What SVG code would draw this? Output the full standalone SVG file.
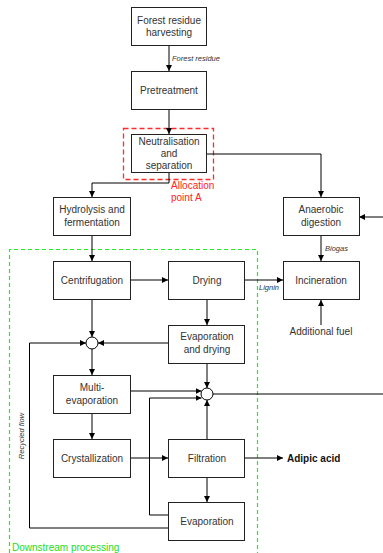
<svg xmlns="http://www.w3.org/2000/svg" width="383" height="553" viewBox="0 0 383 553">
<defs>
<marker id="ah" viewBox="0 0 10 10" refX="10" refY="5" markerWidth="6" markerHeight="6" markerUnits="userSpaceOnUse" orient="auto">
<path d="M0,0 L10,5 L0,10 z" fill="#000"/>
</marker>
<style>
.box{fill:#fff;stroke:#222;stroke-width:1}
.t{font-family:"Liberation Sans",Arial,sans-serif;font-size:10px;fill:#333;text-anchor:middle}
.lbl{font-family:"Liberation Sans",Arial,sans-serif;font-size:7.5px;font-style:italic;fill:#333}
.c{fill:none;stroke:#000;stroke-width:1}
.ca{fill:none;stroke:#000;stroke-width:1;marker-end:url(#ah)}
.jn{fill:#fff;stroke:#000;stroke-width:1}
</style>
</defs>
<rect width="383" height="553" fill="#fff"/>

<!-- region frames -->
<g id="allocation">
<rect x="123.5" y="128.5" width="90" height="51" fill="none" stroke="#ff2a2a" stroke-width="1.3" stroke-dasharray="5,3"/>
<text x="171" y="189" font-family="Liberation Sans,Arial,sans-serif" font-size="10" fill="#ff2222">Allocation</text>
<text x="171" y="201" font-family="Liberation Sans,Arial,sans-serif" font-size="10" fill="#ff2222">point A</text>
</g>
<g id="downstream">
<path d="M9.5,560 L9.5,249.5 L257.5,249.5 L257.5,560" fill="none" stroke="#22ee22" stroke-width="1.2" stroke-dasharray="4,3"/>
<text x="12" y="551" font-family="Liberation Sans,Arial,sans-serif" font-size="10" fill="#22dd22">Downstream processing</text>
</g>

<g id="connectors">
<path class="ca" d="M169,45 V71"/>
<path class="ca" d="M169,109 V134"/>
<path class="ca" d="M207,154 H321 V197"/>
<path class="ca" d="M169,172 V183 H92 V197"/>
<path class="ca" d="M92,236 V261"/>
<path class="ca" d="M130,280 H168"/>
<path class="ca" d="M245,280 H283"/>
<path class="ca" d="M321,236 V261"/>
<path class="ca" d="M383,217 H359"/>
<path class="ca" d="M321,325 V300"/>
<path class="ca" d="M92,299 V337"/>
<path class="ca" d="M207,299 V325"/>
<path class="ca" d="M168,343 H98"/>
<path class="ca" d="M92,349 V375"/>
<path class="ca" d="M207,363 V388"/>
<path class="ca" d="M130,391 H201.5"/>
<path class="ca" d="M168,515 H149.5 V398 H201.5"/>
<path class="ca" d="M168,528 H29.5 V343 H86"/>
<path class="ca" d="M92,413 V439"/>
<path class="ca" d="M130,458 H168"/>
<path class="ca" d="M207,439 V400"/>
<path class="ca" d="M207,477 V502"/>
<path class="ca" d="M245,458 H283"/>
<path class="c" d="M213,394 H383"/>
<text class="lbl" x="172" y="61">Forest residue</text>
<text class="lbl" x="259" y="290">Lignin</text>
<text class="lbl" x="325" y="251">Biogas</text>
<text class="lbl" transform="translate(24,436) rotate(-90)" text-anchor="middle">Recycled flow</text>
</g>

<g id="n_harvest"><rect class="box" x="131.5" y="7.5" width="75" height="38"/><text class="t" x="169" y="24">Forest residue</text><text class="t" x="169" y="36">harvesting</text></g>
<g id="n_pretreat"><rect class="box" x="131.5" y="71.5" width="75" height="38"/><text class="t" x="169" y="94">Pretreatment</text></g>
<g id="n_neutral"><rect class="box" x="131.5" y="134.5" width="75" height="38"/><text class="t" x="169" y="145">Neutralisation</text><text class="t" x="169" y="157">and</text><text class="t" x="169" y="169">separation</text></g>
<g id="n_hydro"><rect class="box" x="53.5" y="197.5" width="77" height="38"/><text class="t" x="92" y="213">Hydrolysis and</text><text class="t" x="92" y="226">fermentation</text></g>
<g id="n_anaer"><rect class="box" x="283.5" y="197.5" width="76" height="38"/><text class="t" x="321" y="213">Anaerobic</text><text class="t" x="321" y="226">digestion</text></g>
<g id="n_centri"><rect class="box" x="53.5" y="261.5" width="77" height="38"/><text class="t" x="92" y="283.5">Centrifugation</text></g>
<g id="n_drying"><rect class="box" x="168.5" y="261.5" width="76" height="38"/><text class="t" x="207" y="283.5">Drying</text></g>
<g id="n_incin"><rect class="box" x="283.5" y="261.5" width="76" height="38"/><text class="t" x="321" y="284">Incineration</text></g>
<g id="n_fuel"><text class="t" x="321" y="335">Additional fuel</text></g>
<g id="j1"><circle class="jn" cx="92" cy="343" r="6"/></g>
<g id="n_evapdry"><rect class="box" x="168.5" y="325.5" width="76" height="38"/><text class="t" x="207" y="340">Evaporation</text><text class="t" x="207" y="353">and drying</text></g>
<g id="n_multi"><rect class="box" x="53.5" y="375.5" width="77" height="38"/><text class="t" x="92" y="391">Multi-</text><text class="t" x="92" y="404">evaporation</text></g>
<g id="j2"><circle class="jn" cx="207" cy="394" r="6"/></g>
<g id="n_cryst"><rect class="box" x="53.5" y="439.5" width="77" height="38"/><text class="t" x="92" y="461.5">Crystallization</text></g>
<g id="n_filt"><rect class="box" x="168.5" y="439.5" width="76" height="38"/><text class="t" x="207" y="462">Filtration</text></g>
<g id="n_evap"><rect class="box" x="168.5" y="502.5" width="76" height="38"/><text class="t" x="207" y="524.5">Evaporation</text></g>
<g id="n_adipic"><text x="287" y="461.5" font-family="Liberation Sans,Arial,sans-serif" font-size="10" font-weight="bold" fill="#111">Adipic acid</text></g>
</svg>
